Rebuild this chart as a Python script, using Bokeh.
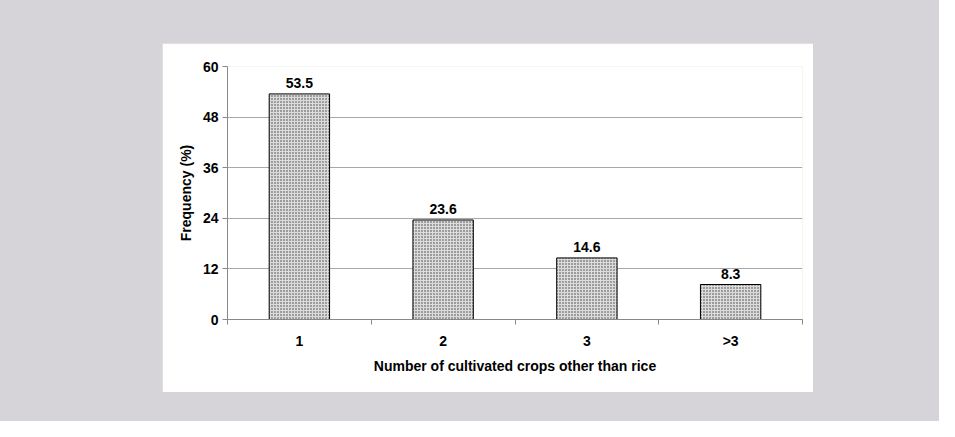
from bokeh.plotting import figure
from bokeh.models import ColumnDataSource, FixedTicker, Range1d
from bokeh.layouts import column
from bokeh.embed import file_html
from bokeh.resources import INLINE
from bokeh.core.properties import value

categories = ["1", "2", "3", ">3"]
frequency = [53.5, 23.6, 14.6, 8.3]
y_ticks = [0, 12, 24, 36, 48, 60]

xs = [i + 0.5 for i in range(len(categories))]
labels = [f"{v:.1f}" for v in frequency]
src = ColumnDataSource(dict(x=xs, top=frequency, label=labels))

FONT = "Liberation Sans"

p = figure(width=651, height=349, output_backend="svg", toolbar_location=None,
           x_range=Range1d(0, len(categories)), y_range=Range1d(0, 60))
p.min_border_left = 65
p.min_border_right = 11
p.min_border_top = 23
p.min_border_bottom = 73
p.border_fill_color = "white"
p.background_fill_color = "white"
p.outline_line_color = None
p.margin = (43, 0, 0, 162)

p.vbar(x="x", top="top", width=0.42, bottom=0, source=src,
       fill_color="#dcdcdc", line_color="black", line_width=1,
       hatch_pattern="dot", hatch_color="#3c3c3c", hatch_scale=3, hatch_weight=1)

p.text(x="x", y="top", text="label", source=src, text_align="center",
       text_baseline="bottom", y_offset=-6, text_font=value(FONT),
       text_font_style="bold", text_font_size="14px", text_color="black")

# y axis
p.yaxis.ticker = FixedTicker(ticks=y_ticks)
p.yaxis.axis_line_color = "#888888"
p.yaxis.major_tick_line_color = "#888888"
p.yaxis.major_tick_out = 5
p.yaxis.major_tick_in = 0
p.yaxis.minor_tick_line_color = None
p.yaxis.major_label_standoff = 4
p.yaxis.major_label_text_font = FONT
p.yaxis.major_label_text_font_style = "bold"
p.yaxis.major_label_text_font_size = "14px"
p.yaxis.major_label_text_color = "black"
p.yaxis.axis_label = "Frequency (%)"
p.yaxis.axis_label_text_font = FONT
p.yaxis.axis_label_text_font_style = "bold"
p.yaxis.axis_label_text_font_size = "14px"
p.yaxis.axis_label_text_color = "black"
p.yaxis.axis_label_standoff = 6

# x axis
p.xaxis.ticker = FixedTicker(ticks=xs, minor_ticks=list(range(len(categories) + 1)))
p.xaxis.major_label_overrides = {x: c for x, c in zip(xs, categories)}
p.xaxis.axis_line_color = "#888888"
p.xaxis.major_tick_line_color = None
p.xaxis.major_tick_out = 6
p.xaxis.minor_tick_line_color = "#888888"
p.xaxis.minor_tick_out = 5
p.xaxis.minor_tick_in = 0
p.xaxis.major_label_standoff = 7
p.xaxis.major_label_text_font = FONT
p.xaxis.major_label_text_font_style = "bold"
p.xaxis.major_label_text_font_size = "14px"
p.xaxis.major_label_text_color = "black"
p.xaxis.axis_label = "Number of cultivated crops other than rice"
p.xaxis.axis_label_text_font = FONT
p.xaxis.axis_label_text_font_style = "bold"
p.xaxis.axis_label_text_font_size = "14px"
p.xaxis.axis_label_text_color = "black"
p.xaxis.axis_label_standoff = 6

p.xgrid.grid_line_color = None
p.ygrid.ticker = FixedTicker(ticks=y_ticks)
p.ygrid.grid_line_color = "#a8a8a8"
p.ygrid.grid_line_width = 1

layout = column(p, width=939, height=421,
                styles={"background-color": "#d6d4d8"})

open("out.html", "w").write(file_html(layout, INLINE))
